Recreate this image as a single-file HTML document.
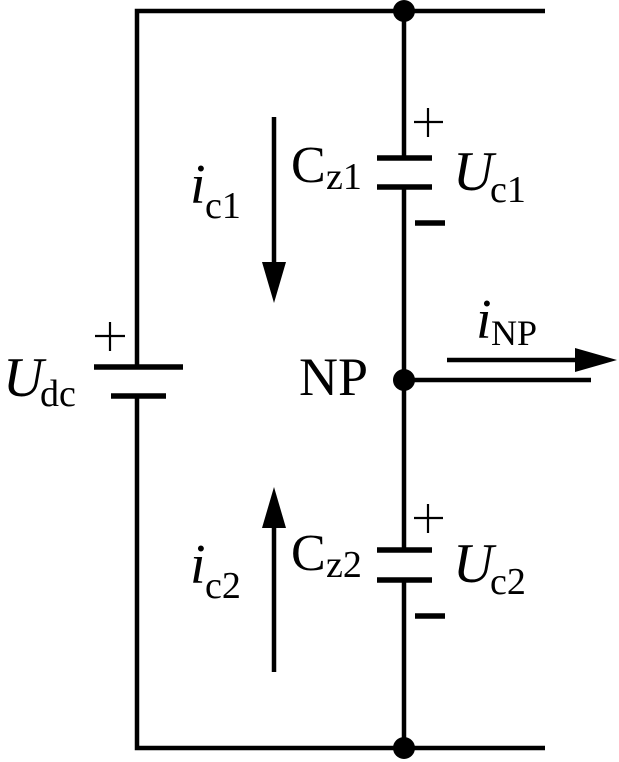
<!DOCTYPE html>
<html><head><style>
html,body{margin:0;padding:0;background:#fff;}
svg{display:block;}
text{font-family:"Liberation Serif",serif;fill:#000;}
</style></head><body>
<svg width="619" height="762" viewBox="0 0 619 762" xmlns="http://www.w3.org/2000/svg">
<g stroke="#000" stroke-width="4.5" fill="none">
<polyline points="545,11 137,11 137,367"/>
<polyline points="137,396 137,748 545,748"/>
<line x1="404" y1="11" x2="404" y2="158"/>
<line x1="404" y1="187" x2="404" y2="550"/>
<line x1="404" y1="580" x2="404" y2="748"/>
<line x1="404" y1="380" x2="591" y2="380"/>
<line x1="447" y1="360" x2="580" y2="360"/>
<line x1="274" y1="117" x2="274" y2="265"/>
<line x1="274" y1="525" x2="274" y2="672"/>
</g>
<g stroke="#000" stroke-width="5.5">
<line x1="94" y1="367" x2="183" y2="367"/>
<line x1="111" y1="396" x2="166" y2="396"/>
<line x1="377" y1="158" x2="432" y2="158"/>
<line x1="377" y1="187" x2="432" y2="187"/>
<line x1="377" y1="550" x2="432" y2="550"/>
<line x1="377" y1="580" x2="432" y2="580"/>
<line x1="415" y1="223" x2="445" y2="223"/>
<line x1="415" y1="616" x2="445" y2="616"/>
</g>
<g stroke="#000" stroke-width="2.2">
<line x1="95" y1="336" x2="125" y2="336"/><line x1="110" y1="322" x2="110" y2="351"/>
<line x1="414" y1="122" x2="443" y2="122"/><line x1="428" y1="108" x2="428" y2="137"/>
<line x1="414" y1="518" x2="443" y2="518"/><line x1="428" y1="504" x2="428" y2="533"/>
</g>
<g fill="#000">
<circle cx="404" cy="11" r="11"/>
<circle cx="404" cy="380" r="11"/>
<circle cx="404" cy="748" r="11"/>
<polygon points="575,348 617,360 575,372"/>
<polygon points="262,262 286,262 274,303"/>
<polygon points="262,528 286,528 274,487"/>
</g>
<text x="3" y="396" font-size="56" font-style="italic">U</text><text x="40" y="406" font-size="38">dc</text>
<text x="190" y="203" font-size="56" font-style="italic">i</text><text x="205" y="218" font-size="38">c1</text>
<text x="190" y="583" font-size="56" font-style="italic">i</text><text x="205" y="598" font-size="38">c2</text>
<text x="291" y="182" font-size="52">C</text><text x="326" y="189" font-size="38">z1</text>
<text x="291" y="570" font-size="52">C</text><text x="326" y="577" font-size="38">z2</text>
<text x="453" y="190" font-size="56" font-style="italic">U</text><text x="490" y="202" font-size="38">c1</text>
<text x="453" y="582" font-size="56" font-style="italic">U</text><text x="490" y="594" font-size="38">c2</text>
<text x="299" y="395" font-size="54">NP</text>
<text x="476" y="338" font-size="56" font-style="italic">i</text><text x="491" y="345" font-size="36">NP</text>
</svg>
</body></html>
